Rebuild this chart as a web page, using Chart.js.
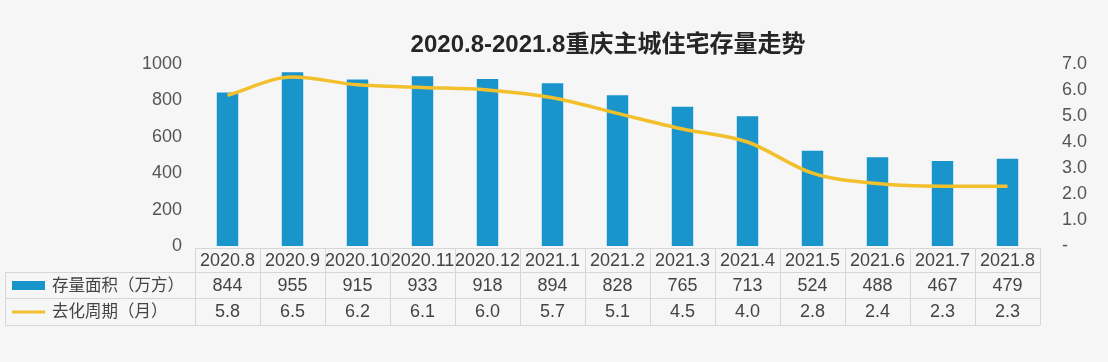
<!DOCTYPE html>
<html>
<head>
<meta charset="utf-8">
<script src="https://cdn.jsdelivr.net/npm/chart.js@4.4.0/dist/chart.umd.min.js"></script>
<style>
  html, body { margin: 0; padding: 0; background: #f6f6f6; }
  #wrap { width: 1108px; height: 362px; }
</style>
</head>
<body>
<div id="wrap"><canvas id="stockChart" width="1108" height="362"></canvas></div>
<script>
const months = ['2020.8', '2020.9', '2020.10', '2020.11', '2020.12', '2021.1', '2021.2',
                '2021.3', '2021.4', '2021.5', '2021.6', '2021.7', '2021.8'];
const stockArea = [844, 955, 915, 933, 918, 894, 828, 765, 713, 524, 488, 467, 479];
const cycleMonths = [5.8, 6.5, 6.2, 6.1, 6.0, 5.7, 5.1, 4.5, 4.0, 2.8, 2.4, 2.3, 2.3];
const areaLabel = '存量面积（万方）';
const cycleLabel = '去化周期（月）';
const chartTitle = '2020.8-2021.8重庆主城住宅存量走势';

const blue = '#1a95cb';
const gold = '#f2c02c';
const textColor = '#444';
const gridColor = '#d6d6d6';
const font = '"Liberation Sans", "Noto Sans CJK SC", sans-serif';

// title + data table under the plot, aligned to the x scale
const tablePlugin = {
    id: 'tablePlugin',
    afterDraw(chart) {
        const ctx = chart.ctx;
        const x = chart.scales.x;
        const area = chart.chartArea;
        const colW = x.getPixelForValue(1) - x.getPixelForValue(0);
        const left = x.getPixelForValue(0) - colW / 2;
        const right = x.getPixelForValue(months.length - 1) + colW / 2;
        const rows = [area.bottom + 2, 272, 298, 325];

        ctx.save();
        ctx.fillStyle = '#262626';
        ctx.font = 'bold 24px ' + font;
        ctx.textAlign = 'center';
        ctx.textBaseline = 'middle';
        ctx.fillText(chartTitle, 608, 45);

        ctx.strokeStyle = gridColor;
        ctx.lineWidth = 1;
        ctx.beginPath();
        // header row
        ctx.moveTo(left, rows[0] + 0.5); ctx.lineTo(right, rows[0] + 0.5);
        for (let r = 1; r < rows.length; r++) {
            ctx.moveTo(5, rows[r] + 0.5); ctx.lineTo(right, rows[r] + 0.5);
        }
        for (let i = 0; i <= months.length; i++) {
            const px = Math.round(left + i * colW) + 0.5;
            ctx.moveTo(px, rows[0]); ctx.lineTo(px, rows[3]);
        }
        ctx.moveTo(5.5, rows[1]); ctx.lineTo(5.5, rows[3]);
        ctx.stroke();

        ctx.font = '18px ' + font;
        ctx.fillStyle = textColor;
        ctx.textAlign = 'center';
        months.forEach((m, i) => {
            const cx = x.getPixelForValue(i);
            ctx.fillText(m, cx, (rows[0] + rows[1]) / 2 + 1);
            ctx.fillText(String(stockArea[i]), cx, (rows[1] + rows[2]) / 2 + 1);
            ctx.fillText(cycleMonths[i].toFixed(1), cx, (rows[2] + rows[3]) / 2 + 1);
        });

        // legend keys
        ctx.fillStyle = blue;
        ctx.fillRect(12, 281, 33, 9);
        ctx.strokeStyle = gold;
        ctx.lineWidth = 3;
        ctx.beginPath();
        ctx.moveTo(12, 312); ctx.lineTo(45, 312);
        ctx.stroke();
        ctx.fillStyle = textColor;
        ctx.textAlign = 'left';
        ctx.font = '16.5px ' + font;
        ctx.fillText(areaLabel, 52, (rows[1] + rows[2]) / 2 + 1);
        ctx.fillText(cycleLabel, 52, (rows[2] + rows[3]) / 2 + 1);
        ctx.restore();
    }
};

const ctx = document.getElementById('stockChart').getContext('2d');
new Chart(ctx, {
    data: {
        labels: months,
        datasets: [
            {
                type: 'line',
                label: cycleLabel,
                data: cycleMonths,
                yAxisID: 'y1',
                borderColor: gold,
                borderWidth: 3.5,
                pointRadius: 0,
                cubicInterpolationMode: 'monotone',
                order: 0
            },
            {
                type: 'bar',
                label: areaLabel,
                data: stockArea,
                yAxisID: 'y',
                backgroundColor: blue,
                barPercentage: 0.33,
                categoryPercentage: 1,
                order: 1
            }
        ]
    },
    options: {
        responsive: false,
        animation: false,
        layout: { padding: { top: 64, bottom: 116, left: 0, right: 0 } },
        plugins: {
            legend: { display: false },
            tooltip: { enabled: false }
        },
        scales: {
            x: {
                display: false,
                offset: true
            },
            y: {
                position: 'left',
                min: 0,
                max: 1000,
                ticks: {
                    stepSize: 200,
                    padding: 13,
                    color: '#555',
                    font: { size: 18, family: font },
                    callback: v => String(v)
                },
                grid: { display: false, drawTicks: false },
                border: { display: false },
                afterFit: s => { s.width = 195; }
            },
            y1: {
                position: 'right',
                min: 0,
                max: 7,
                ticks: {
                    stepSize: 1,
                    padding: 22,
                    color: '#555',
                    font: { size: 18, family: font },
                    callback: v => v === 0 ? '-' : v.toFixed(1)
                },
                grid: { display: false, drawTicks: false },
                border: { display: false },
                afterFit: s => { s.width = 68; }
            }
        }
    },
    plugins: [tablePlugin]
});
</script>
</body>
</html>
